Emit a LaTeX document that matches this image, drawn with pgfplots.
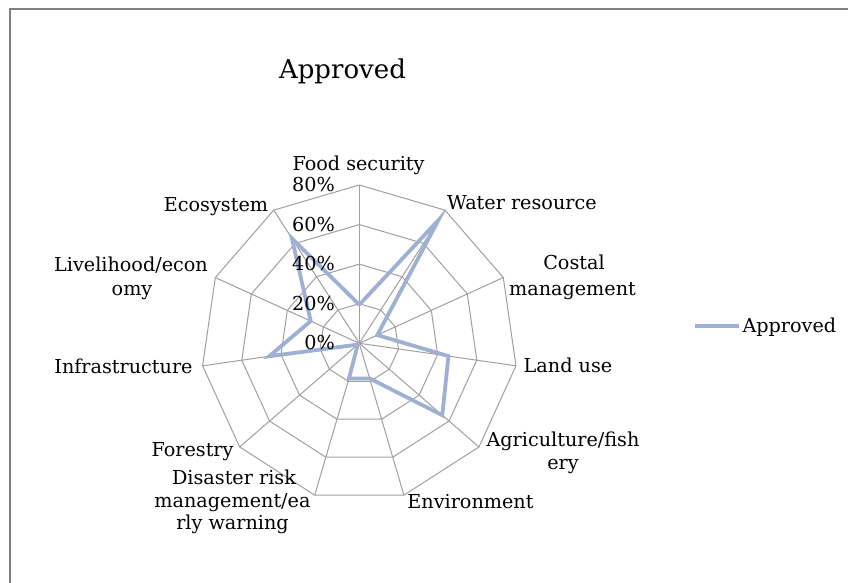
\documentclass[border=0pt]{standalone}
\usepackage{fontspec}
\setmainfont{DejaVu Serif}
\usepackage{pgfplots}
\pgfplotsset{compat=1.18}
\usepgfplotslibrary{polar}
\definecolor{serc}{RGB}{158,177,212}
\definecolor{gridc}{RGB}{160,160,160}
\definecolor{framec}{RGB}{128,128,128}
\newcommand\labfont{\fontsize{19.2}{24}\selectfont}
\newcommand\titfont{\fontsize{26}{30}\selectfont}
\begin{document}
\begin{tikzpicture}[x=1pt,y=1pt]
\useasboundingbox (0pt,0pt) rectangle (848pt,583pt);
\fill[white] (0pt,0pt) rectangle (848pt,583pt);
\draw[framec, line width=2pt] (10pt,-2pt) -- (10pt,574pt) -- (850pt,574pt);
\begin{polaraxis}[
  hide axis, clip=false,
  xmin=0, xmax=360, ymin=0, ymax=80,
  width=316.6pt, height=316.6pt, scale only axis,
  at={(359.3pt,239.7pt)}, anchor=center,
  legend style={at={(axis description cs:1.554,0.5547)}, anchor=west,
    draw=none, fill=none, inner sep=0pt, font=\labfont,
    nodes={inner sep=1.5pt}},
  legend image code/.code={\draw[#1] (0pt,0pt) -- (44pt,0pt);},
]
\pgfplotsinvokeforeach{20,40,60,80}{
  \addplot[gridc, line width=1pt, forget plot] coordinates {
    (90,#1) (57.273,#1) (24.545,#1) (351.818,#1) (319.091,#1) (286.364,#1)
    (253.636,#1) (220.909,#1) (188.182,#1) (155.455,#1) (122.727,#1) (90,#1)};
}
\pgfplotsinvokeforeach{90,57.273,24.545,351.818,319.091,286.364,253.636,220.909,188.182,155.455,122.727}{
  \addplot[gridc, line width=1pt, forget plot] coordinates {(#1,0) (#1,80)};
}
% Approved (%), clockwise from Food security
\addplot[serc, line width=3.8pt, line join=miter, no markers] coordinates {
  (90,19.5)      % Food security
  (57.273,74)    % Water resource
  (24.545,10)    % Costal management
  (351.818,45.5) % Land use
  (319.091,55.5) % Agriculture/fishery
  (286.364,18.5) % Environment
  (253.636,18.5) % Disaster risk management/early warning
  (220.909,1)    % Forestry
  (188.182,46)   % Infrastructure
  (155.455,27)   % Livelihood/economy
  (122.727,63)   % Ecosystem
  (90,19.5)
};
\addlegendentry{Approved}
\end{polaraxis}
% title
\node[anchor=base, inner sep=0pt, font=\titfont] at (342.5pt,504pt) {Approved};
% radial tick labels
\begin{scope}[every node/.style={anchor=base east, inner sep=0pt, font=\labfont}]
\node at (335pt,391pt) {80\%};
\node at (335pt,351.5pt) {60\%};
\node at (335pt,312pt) {40\%};
\node at (335pt,272.5pt) {20\%};
\node at (335pt,233pt) {0\%};
\end{scope}
% category labels
\begin{scope}[every node/.style={anchor=base, inner sep=0pt, font=\labfont}]
\node at (358.5pt,412.3pt) {Food security};
\node[anchor=base west] at (447pt,373pt) {Water resource};
\node at (574pt,313pt) {Costal};
\node at (572.5pt,287pt) {management};
\node at (568pt,210pt) {Land use};
\node at (563pt,136pt) {Agriculture/fish};
\node at (563pt,113pt) {ery};
\node at (470.5pt,74pt) {Environment};
\node at (192.5pt,126pt) {Forestry};
\node at (234pt,98pt) {Disaster risk};
\node at (232.5pt,75pt) {management/ea};
\node at (232.5pt,53pt) {rly warning};
\node at (123.5pt,209pt) {Infrastructure};
\node at (131pt,311pt) {Livelihood/econ};
\node at (132pt,287pt) {omy};
\node at (216pt,371pt) {Ecosystem};
\end{scope}
\end{tikzpicture}
\end{document}
